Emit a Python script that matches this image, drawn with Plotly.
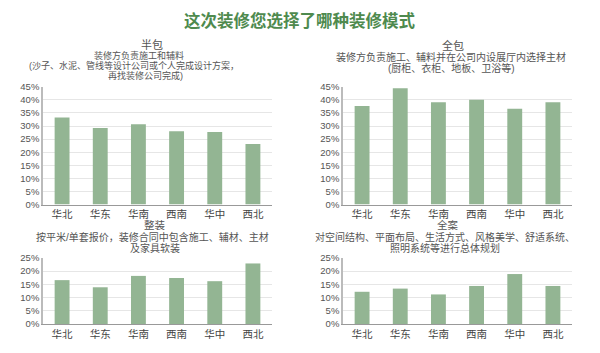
import plotly.graph_objects as go

regions = ["华北", "华东", "华南", "西南", "华中", "西北"]
banbao = [0.332, 0.292, 0.307, 0.280, 0.277, 0.231]
quanbao = [0.376, 0.444, 0.391, 0.400, 0.366, 0.391]
zhengzhuang = [0.166, 0.139, 0.182, 0.174, 0.162, 0.229]
quanan = [0.122, 0.134, 0.112, 0.144, 0.189, 0.144]

W, H = 600, 353
FONT = "Liberation Sans, Noto Sans CJK SC"
BAR = "#93b593"
TXT = "#555555"

fig = go.Figure()

panels = [
    (banbao, [43, 272], [205, 83.3], 0.45),
    (quanbao, [343, 572], [205, 83.3], 0.45),
    (zhengzhuang, [43, 272], [328.3, 260], 0.25),
    (quanan, [343, 572], [328.3, 260], 0.25),
]

for i, (vals, xr, yr, top) in enumerate(panels):
    n = "" if i == 0 else str(i + 1)
    fig.add_trace(go.Bar(x=regions, y=vals, xaxis="x" + n, yaxis="y" + n,
                         marker=dict(color=BAR, line=dict(width=0)),
                         width=0.39, showlegend=False, hoverinfo="skip"))
    fig.layout["xaxis" + n] = dict(
        domain=[xr[0] / W, xr[1] / W], anchor="y" + n,
        showline=True, linecolor="#999999", linewidth=1,
        ticks="", showgrid=False,
        tickfont=dict(family=FONT, size=10.5, color="#444444"),
    )
    fig.layout["yaxis" + n] = dict(
        domain=[1 - yr[0] / H, 1 - yr[1] / H], anchor="x" + n,
        range=[0, top], dtick=0.05, tickformat=".0%",
        showline=True, linecolor="#bbbbbb", linewidth=1.5,
        showgrid=True, gridcolor="#e6e6e6", gridwidth=1,
        zeroline=False, ticks="",
        tickfont=dict(family=FONT, size=9.5, color=TXT),
    )

def txt(x, y, s, size, color="#555555", bold=False):
    fig.add_annotation(x=x / W, y=1 - y / H, xref="paper", yref="paper",
                       text=("<b>%s</b>" % s) if bold else s, showarrow=False,
                       xanchor="center", yanchor="middle", align="center",
                       font=dict(family=FONT, size=size, color=color))

txt(300, 15, "这次装修您选择了哪种装修模式", 16.5, "#4e8a4e", bold=True)

txt(152, 39.5, "半包", 11)
txt(139, 51, "装修方负责施工和辅料", 9)
txt(134, 61.3, "(沙子、水泥、管线等设计公司或个人完成设计方案，", 9)
txt(145, 71.6, "再找装修公司完成)", 9)

txt(453, 41, "全包", 11)
txt(451, 53, "装修方负责施工、辅料并在公司内设展厅内选择主材", 10)
txt(451, 64.5, "(厨柜、衣柜、地板、卫浴等)", 10)

txt(155, 226.5, "整装", 10.5)
txt(152, 238.2, "按平米/单套报价，装修合同中包含施工、辅材、主材", 10)
txt(155, 249.6, "及家具软装", 10)

txt(448, 226.5, "全案", 10.5)
txt(445, 238.2, "对空间结构、平面布局、生活方式、风格美学、舒适系统、", 10)
txt(445, 249.6, "照明系统等进行总体规划", 10)

fig.update_layout(width=W, height=H, margin=dict(l=0, r=0, t=0, b=0),
                  paper_bgcolor="white", plot_bgcolor="white",
                  font=dict(family=FONT))

fig.write_html("out.html")
